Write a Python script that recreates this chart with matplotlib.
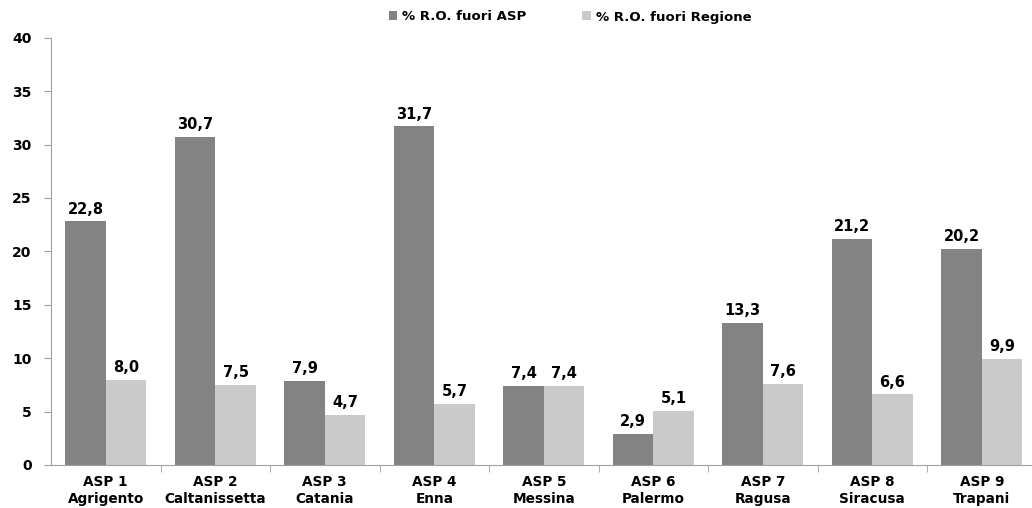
import numpy as np
import matplotlib.pyplot as plt

categorie = ['ASP 1\nAgrigento', 'ASP 2\nCaltanissetta', 'ASP 3\nCatania', 'ASP 4\nEnna',
             'ASP 5\nMessina', 'ASP 6\nPalermo', 'ASP 7\nRagusa', 'ASP 8\nSiracusa', 'ASP 9\nTrapani']
fuori_asp = [22.8, 30.7, 7.9, 31.7, 7.4, 2.9, 13.3, 21.2, 20.2]
fuori_regione = [8.0, 7.5, 4.7, 5.7, 7.4, 5.1, 7.6, 6.6, 9.9]

plt.rcParams['font.family'] = 'DejaVu Sans'
plt.rcParams['font.weight'] = 'bold'

fig = plt.figure(figsize=(10.32, 5.08), dpi=100)
ax = fig.add_axes([51/1032, 1-465/508, 985.5/1032, (465-37.7)/508])

x = np.arange(len(categorie))
w = 0.37
b1 = ax.bar(x - w/2, fuori_asp, w, color='#838383', label='% R.O. fuori ASP')
b2 = ax.bar(x + w/2, fuori_regione, w, color='#cacaca', label='% R.O. fuori Regione')

for bars in (b1, b2):
    for r in bars:
        h = r.get_height()
        ax.text(r.get_x() + r.get_width()/2, h + 0.45, ('%.1f' % h).replace('.', ','),
                ha='center', va='bottom', fontsize=10.5, fontweight='bold')

ax.set_xlim(-0.5, len(categorie) - 0.5)
ax.set_ylim(0, 40)
ax.set_yticks(range(0, 41, 5))
ax.set_xticks(x)
ax.set_xticklabels(categorie, fontsize=9.8, fontweight='bold', linespacing=1.3)
ax.set_xticks(np.arange(0.5, len(categorie) - 0.5, 1), minor=True)
ax.tick_params(axis='x', which='major', length=0, pad=7)
ax.tick_params(axis='x', which='minor', length=5, color='#a0a0a0')
ax.tick_params(axis='y', length=5, color='#a0a0a0', labelsize=10, pad=9)
for s in ['top', 'right']:
    ax.spines[s].set_visible(False)
for s in ['left', 'bottom']:
    ax.spines[s].set_color('#a0a0a0')

leg = fig.legend(loc='center', bbox_to_anchor=(570/1032, 1-17/508), ncol=2, frameon=False,
                 fontsize=9.5, handlelength=0.65, handleheight=0.65, columnspacing=4.2, handletextpad=0.4)

fig.savefig('out.png', dpi=100)
